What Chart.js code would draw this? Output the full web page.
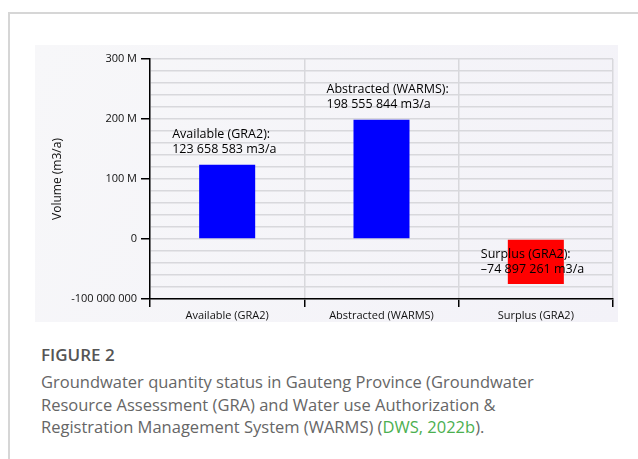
<!DOCTYPE html>
<html>
<head>
<meta charset="utf-8">
<script src="https://cdn.jsdelivr.net/npm/chart.js@4.4.1/dist/chart.umd.min.js"></script>
<style>
  html, body { margin: 0; padding: 0; background: #fff; }
  body { width: 638px; height: 459px; position: relative; overflow: hidden; font-family: 'Open Sans', sans-serif; }
  #frame { position: absolute; left: 8px; top: 12px; width: 640px; height: 460px;
           border-top: 2px solid #d6d6d6; border-left: 2px solid #d6d6d6; }
  #chart { position: absolute; left: 0; top: 0; }
  #caption { position: absolute; left: 41px; top: 343px; width: 545px; color: #666; }
  #caption .fig { font-size: 17px; font-weight: 600; color: #555; line-height: 24px; }
  #caption .txt { font-size: 16.5px; line-height: 22.5px; margin-top: 4px; }
  #caption .ref { color: #4caf50; }
</style>
</head>
<body>
<div id="frame"></div>
<canvas id="chart" width="638" height="330"></canvas>
<div id="caption">
  <div class="fig">FIGURE 2</div>
  <div class="txt">Groundwater quantity status in Gauteng Province (Groundwater Resource Assessment (GRA) and Water use Authorization &amp; Registration Management System (WARMS) (<span class="ref">DWS, 2022b</span>).</div>
</div>
<script>
// Chart data
const categories = ['Available (GRA2)', 'Abstracted (WARMS)', 'Surplus (GRA2)'];
const volumes = [123658583, 198555844, -74897261];
const barColors = ['#0000ff', '#0000ff', '#ff0000'];
const barLabels = [
  ['Available (GRA2):', '123 658 583 m3/a'],
  ['Abstracted (WARMS):', '198 555 844 m3/a'],
  ['Surplus (GRA2):', '\u201374 897 261 m3/a']
];
const yTickValues = [-100000000, 0, 100000000, 200000000, 300000000];
const yTickLabels = ['-100 000 000', '0', '100 M', '200 M', '300 M'];

// Light panel behind the plot
const panelBackground = {
  id: 'panelBackground',
  beforeDraw(chart) {
    const c = chart.ctx;
    const g = c.createLinearGradient(35, 45, 618, 322);
    g.addColorStop(0, '#f7f7f9');
    g.addColorStop(1, '#f3f2f8');
    c.save();
    c.fillStyle = g;
    c.fillRect(35, 45, 583, 277);
    c.restore();
  }
};

// Value labels next to the bars
const barText = {
  id: 'barText',
  afterDatasetsDraw(chart) {
    const c = chart.ctx;
    const meta = chart.getDatasetMeta(0);
    c.save();
    c.font = '12.5px "Open Sans"';
    c.fillStyle = '#000';
    c.textAlign = 'left';
    c.textBaseline = 'middle';
    meta.data.forEach((bar, i) => {
      const lines = barLabels[i];
      const x = bar.x - 55;
      let y1, y2;
      if (volumes[i] >= 0) {
        y1 = bar.y - 30; y2 = bar.y - 15;
      } else {
        y1 = bar.base + 15; y2 = bar.base + 30;
      }
      c.fillText(lines[0], x, y1);
      c.fillText(lines[1], x, y2);
    });
    c.restore();
  }
};

new Chart(document.getElementById('chart'), {
  type: 'bar',
  data: {
    labels: categories,
    datasets: [{
      data: volumes,
      backgroundColor: barColors,
      borderWidth: 0,
      barPercentage: 0.363,
      categoryPercentage: 1
    }]
  },
  options: {
    responsive: false,
    animation: false,
    devicePixelRatio: 1,
    layout: { padding: { left: 40, top: 59, right: 25, bottom: 5 } },
    plugins: {
      legend: { display: false },
      tooltip: { enabled: false }
    },
    scales: {
      x: {
        afterFit: (s) => { s.height = 26; },
        grid: {
          offset: true,
          color: '#d8d8dc',
          lineWidth: 1.5,
          tickColor: '#000',
          tickLength: 8
        },
        border: { color: '#000', width: 1.5 },
        ticks: {
          color: '#111',
          padding: 2,
          font: { family: 'Open Sans', size: 11 }
        }
      },
      y: {
        min: -100000000,
        max: 300000000,
        afterFit: (s) => { s.width = 110; },
        grid: {
          color: '#d8d8dc',
          lineWidth: 1.5,
          tickLength: 9,
          tickColor: (ctx) => (ctx.tick && yTickValues.includes(ctx.tick.value)) ? '#000' : 'rgba(0,0,0,0)'
        },
        border: { color: '#000', width: 1.5 },
        title: {
          display: true,
          text: 'Volume (m3/a)',
          color: '#111',
          font: { family: 'Open Sans', size: 12 },
          padding: { top: 10, bottom: 0 }
        },
        ticks: {
          stepSize: 20000000,
          autoSkip: false,
          color: '#111',
          padding: 4,
          font: { family: 'Open Sans', size: 11 },
          callback: (value) => {
            const i = yTickValues.indexOf(value);
            return i >= 0 ? yTickLabels[i] : '';
          }
        }
      }
    }
  },
  plugins: [panelBackground, barText]
});
</script>
</body>
</html>
